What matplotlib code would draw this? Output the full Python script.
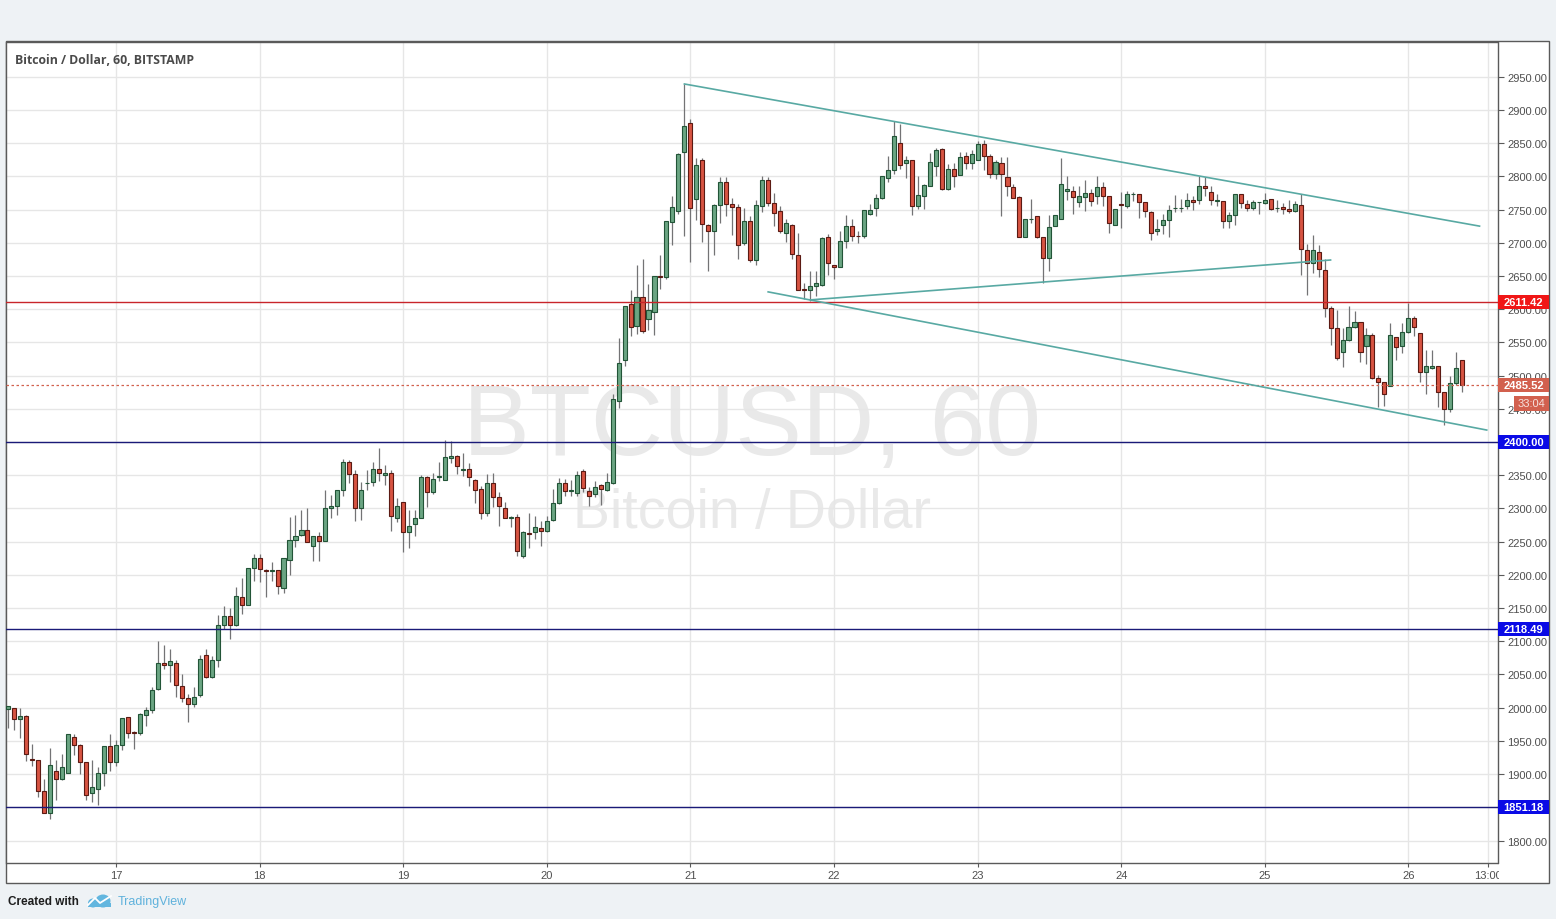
import matplotlib
matplotlib.use('Agg')
import matplotlib.pyplot as plt
from matplotlib.patches import Rectangle, Ellipse
from matplotlib.lines import Line2D

plt.rcParams['font.family'] = ['Liberation Sans', 'DejaVu Sans']

W, H = 1556, 920

# hourly BTCUSD candles, first one = 16th 06:00
opens = [1998, 2000, 1983, 1988, 1923, 1922, 1875, 1842, 1904, 1893, 1902, 1956, 1944, 1919, 1872, 1877, 1901, 1943, 1919, 1944,
         1986, 1963, 1962, 1989, 1997, 2028, 2067, 2064, 2067, 2033, 2014, 2006, 2019, 2079, 2046, 2072, 2124, 2138, 2124, 2166,
         2155, 2210, 2226, 2207, 2206, 2207, 2180, 2223, 2253, 2260, 2267, 2243, 2258, 2251, 2300, 2304, 2327, 2370, 2352, 2301,
         2338, 2340, 2360, 2351, 2354, 2286, 2309, 2264, 2277, 2286, 2348, 2324, 2348, 2343, 2376, 2379, 2358, 2359, 2343, 2329,
         2293, 2339, 2317, 2300, 2286, 2287, 2228, 2263, 2264, 2270, 2266, 2282, 2308, 2338, 2326, 2323, 2356, 2326, 2321, 2336,
         2327, 2338, 2462, 2523, 2608, 2574, 2618, 2585, 2595, 2650, 2649, 2731, 2748, 2836, 2881, 2766, 2824, 2727, 2718, 2757,
         2792, 2759, 2754, 2700, 2732, 2674, 2756, 2795, 2760, 2748, 2715, 2726, 2681, 2630, 2629, 2635, 2636, 2708, 2667, 2663,
         2702, 2725, 2710, 2710, 2743, 2753, 2767, 2798, 2809, 2850, 2820, 2824, 2755, 2770, 2786, 2815, 2841, 2781, 2811, 2802,
         2831, 2820, 2825, 2849, 2830, 2803, 2820, 2799, 2784, 2769, 2709, 2735.5, 2740, 2708, 2677, 2725, 2736, 2778, 2778, 2761,
         2769, 2775, 2770, 2784, 2770, 2727, 2758, 2756, 2773, 2773, 2761, 2747, 2717, 2727, 2734, 2752, 2752, 2756, 2764, 2765,
         2785, 2776, 2763, 2763, 2733, 2742, 2774, 2758, 2752, 2761, 2760, 2766, 2752, 2754, 2751, 2748, 2757, 2689, 2669, 2686,
         2659, 2601, 2571, 2535, 2553, 2573, 2580, 2545, 2561, 2496, 2490, 2484, 2558, 2545, 2565, 2586, 2564, 2505, 2512, 2515,
         2476, 2449, 2489, 2523]
highs = [2002, 2000, 2000, 1989, 1946, 1922, 1892, 1940, 1922, 1931, 1961, 1961, 1945, 1919, 1921, 1911, 1943, 1961, 1952, 1985,
         1986, 1965, 1992, 2001, 2031, 2101, 2095, 2089, 2072, 2051, 2021, 2031, 2079, 2089, 2078, 2140, 2153, 2150, 2182, 2195,
         2210, 2231, 2231, 2209, 2219, 2207, 2225, 2287, 2290, 2297, 2300, 2258, 2265, 2327, 2320, 2327, 2375, 2373, 2358, 2340,
         2358, 2370, 2391, 2366, 2358, 2316, 2309, 2297, 2297, 2351, 2349, 2354, 2370, 2403, 2402, 2380, 2384, 2369, 2344, 2334,
         2352, 2353, 2324, 2310, 2289, 2292, 2266, 2293, 2288, 2281, 2288, 2330, 2346, 2345, 2343, 2356, 2360, 2333, 2342, 2337,
         2353, 2472, 2556, 2605, 2629, 2666, 2675, 2638, 2650, 2681, 2732, 2770, 2835, 2939, 2887, 2827, 2827, 2728, 2758, 2799,
         2799, 2768, 2758, 2753, 2740, 2764, 2800, 2799, 2775, 2755, 2735, 2728, 2715, 2640, 2657, 2657, 2708, 2713, 2667, 2718,
         2742, 2736, 2717, 2750, 2758, 2774, 2800, 2830, 2883, 2878, 2830, 2824, 2800, 2788, 2835, 2843, 2842, 2819, 2820, 2836,
         2836, 2840, 2853, 2855, 2833, 2825, 2829, 2829, 2788, 2770, 2736, 2766, 2740, 2709, 2741, 2741, 2828, 2801, 2786, 2786,
         2795, 2781, 2801, 2791, 2770, 2751, 2776, 2778, 2777, 2774, 2761, 2748, 2736, 2743, 2757, 2772, 2766, 2775, 2771, 2800,
         2799, 2786, 2774, 2763, 2746, 2774, 2774, 2764, 2764, 2762, 2775, 2766, 2765, 2760, 2764, 2763, 2773, 2698, 2711, 2696,
         2675, 2605, 2599, 2571, 2605, 2597, 2580, 2571, 2564, 2501, 2491, 2579, 2558, 2579, 2609, 2590, 2564, 2539, 2538, 2515,
         2476, 2500, 2535, 2523]
lows = [1970, 1967, 1954, 1920, 1912, 1866, 1841, 1832, 1861, 1891, 1901, 1929, 1900, 1861, 1858, 1854, 1882, 1904, 1912, 1937,
        1954, 1938, 1959, 1973, 1992, 2027, 2059, 2039, 2016, 2009, 1979, 2001, 2016, 2045, 2045, 2061, 2118, 2104, 2123, 2141,
        2154, 2190, 2189, 2166, 2190, 2171, 2173, 2200, 2242, 2259, 2250, 2221, 2221, 2251, 2285, 2290, 2318, 2339, 2281, 2283,
        2327, 2334, 2341, 2335, 2266, 2279, 2234, 2241, 2259, 2286, 2302, 2321, 2342, 2343, 2368, 2352, 2349, 2334, 2308, 2284,
        2289, 2302, 2274, 2285, 2272, 2229, 2225, 2240, 2254, 2244, 2265, 2281, 2307, 2318, 2318, 2319, 2324, 2304, 2317, 2305,
        2326, 2337, 2451, 2515, 2559, 2562, 2564, 2569, 2561, 2631, 2646, 2696, 2743, 2710, 2671, 2734, 2701, 2657, 2682, 2730,
        2740, 2712, 2676, 2696, 2671, 2667, 2746, 2755, 2725, 2715, 2701, 2675, 2629, 2615, 2612, 2620, 2635, 2652, 2645, 2663,
        2692, 2702, 2700, 2707, 2742, 2740, 2766, 2791, 2803, 2811, 2797, 2742, 2751, 2751, 2786, 2800, 2780, 2779, 2784, 2802,
        2811, 2811, 2824, 2810, 2797, 2796, 2740, 2770, 2768, 2708, 2708, 2730, 2707, 2640, 2658, 2725, 2736, 2765, 2743, 2754,
        2748, 2756, 2758, 2756, 2715, 2726, 2722, 2752, 2763, 2737, 2738, 2704, 2711, 2713, 2708, 2746, 2747, 2751, 2750, 2758,
        2770, 2757, 2756, 2722, 2722, 2727, 2752, 2748, 2750, 2744, 2758, 2750, 2746, 2743, 2745, 2746, 2651, 2622, 2654, 2649,
        2588, 2546, 2524, 2513, 2552, 2571, 2521, 2517, 2495, 2452, 2454, 2484, 2524, 2534, 2564, 2559, 2491, 2473, 2510, 2453,
        2425, 2445, 2486, 2475]
closes = [2002, 1983, 1988, 1931, 1922, 1875, 1842, 1914, 1893, 1910, 1961, 1944, 1919, 1868, 1880, 1901, 1943, 1919, 1944, 1985,
          1962, 1962, 1990, 1997, 2027, 2067, 2064, 2070, 2034, 2014, 2006, 2016, 2073, 2046, 2072, 2124, 2138, 2124, 2168, 2155,
          2210, 2226, 2209, 2206, 2207, 2183, 2225, 2252, 2259, 2267, 2250, 2258, 2251, 2300, 2304, 2327, 2370, 2352, 2301, 2327,
          2339, 2360, 2354, 2354, 2288, 2304, 2264, 2274, 2286, 2348, 2324, 2344, 2349, 2377, 2379, 2364, 2359, 2348, 2328, 2293,
          2339, 2317, 2303, 2285, 2287, 2236, 2264, 2262, 2272, 2266, 2281, 2308, 2338, 2326, 2327, 2351, 2331, 2318, 2332, 2329,
          2340, 2464, 2519, 2605, 2573, 2618, 2567, 2598, 2650, 2649, 2732, 2754, 2834, 2875, 2753, 2817, 2728, 2718, 2757, 2792,
          2759, 2754, 2696, 2732, 2674, 2757, 2795, 2760, 2745, 2718, 2729, 2683, 2629, 2629, 2635, 2640, 2707, 2670, 2663, 2703,
          2725, 2710, 2709.5, 2750, 2750, 2767, 2800, 2810, 2861, 2817, 2824, 2755, 2772, 2787, 2821, 2840, 2781, 2811, 2801, 2829,
          2820, 2833, 2849, 2831, 2803, 2822, 2803, 2785, 2768, 2709, 2736, 2736, 2709, 2677, 2724, 2741, 2788, 2781, 2769, 2770,
          2775, 2763, 2784, 2770, 2730, 2751, 2757, 2773, 2774, 2761, 2748, 2715, 2720, 2734, 2750, 2752.5, 2753, 2764, 2761, 2785,
          2783, 2764, 2764, 2733, 2742, 2774, 2760, 2753, 2761, 2762, 2764, 2751, 2752, 2751, 2748, 2759, 2691, 2669, 2689, 2660,
          2601, 2571, 2526, 2553, 2573, 2580, 2535, 2561, 2496, 2490, 2472, 2561, 2543, 2565, 2586, 2573, 2505, 2514, 2514, 2475,
          2449, 2489, 2511, 2485.52]

day_pos = [18, 42, 66, 90, 114, 138, 162, 186, 210, 234, 247.3]
day_labels = ['17', '18', '19', '20', '21', '22', '23', '24', '25', '26', '13:00']

price_ticks = list(range(1800, 3000, 50))
hidden_ticks = [2400, 1850]  # sit under the level boxes

level_prices = [2611.42, 2400.00, 2118.49, 1851.18]
level_colors = ['#c8242a', '#1a1a78', '#1a1a78', '#1a1a78']
level_label_bg = ['#f01616', '#0a0ae6', '#0a0ae6', '#0a0ae6']

# trend lines: (x0, p0, x1, p1) in candle index / price
trend_lines = [(113.0, 2939, 245.9, 2725),
               (127.0, 2626, 247.1, 2418),
               (134.1, 2614, 221.0, 2674)]

last_price = 2485.52
countdown = '33:04'

UP, DOWN = '#6ba583', '#d75442'
UP_EDGE, DOWN_EDGE = '#225437', '#5b1a13'
WICK = '#737375'
TEAL = '#58a9a3'
LAST_COL = '#d2604e'


def fx(x):
    return x / W


def fy(y):
    return 1 - y / H


fig = plt.figure(figsize=(W / 100, H / 100), dpi=100, facecolor='#eef2f5')

# white chart panel
fig.add_artist(Rectangle((fx(6), fy(884)), (1549 - 6) / W, (884 - 42) / H,
                         transform=fig.transFigure, facecolor='white',
                         edgecolor='#5a5a5a', linewidth=1, zorder=-1))

ax = fig.add_axes([fx(6.5), fy(864), (1497.5 - 6.5) / W, (864 - 43) / H])
ax.set_xlim(-0.3, 248.9)
ax.set_ylim(1766.2, 3002.2)

for s in ax.spines.values():
    s.set_color('#5a5a5a')
    s.set_linewidth(1)

ax.set_axisbelow(True)
ax.grid(True, color='#e6e6e6', linewidth=1)
ax.yaxis.tick_right()
ax.set_yticks(price_ticks)
ax.set_yticklabels(['' if v in hidden_ticks else f'{v:.2f}' for v in price_ticks])
ax.set_xticks(day_pos)
ax.set_xticklabels(day_labels)
ax.tick_params(axis='y', direction='out', length=4, color='#5a5a5a',
               labelsize=8, labelcolor='#4f4f4f', pad=3)
ax.tick_params(axis='x', direction='out', length=3, color='#5a5a5a',
               labelsize=8, labelcolor='#4f4f4f', pad=2)

# watermark
ax.text(fx(752), fy(455), 'BTCUSD, 60', transform=fig.transFigure,
        fontsize=72, color='#e9e9e9', ha='center', va='baseline', zorder=0.1)
ax.text(fx(752), fy(528), 'Bitcoin / Dollar', transform=fig.transFigure,
        fontsize=40, color='#e9e9e9', ha='center', va='baseline', zorder=0.1)

# candles
xs = list(range(len(opens)))
ax.vlines(xs, lows, highs, color=WICK, linewidth=0.9, zorder=2)
bottoms = [min(o, c) for o, c in zip(opens, closes)]
heights = [max(abs(c - o), 0.8) for o, c in zip(opens, closes)]
fills = [UP if c >= o else DOWN for o, c in zip(opens, closes)]
edges = [UP_EDGE if c >= o else DOWN_EDGE for o, c in zip(opens, closes)]
ax.bar(xs, heights, bottom=bottoms, width=0.68, color=fills,
       edgecolor=edges, linewidth=0.8, zorder=3)

# horizontal levels
for p, c in zip(level_prices, level_colors):
    ax.axhline(p, color=c, linewidth=1, zorder=4)
ax.axhline(last_price, color=LAST_COL, linewidth=0.9, linestyle=(0, (2, 2)), zorder=4)

# trend lines
for x0, p0, x1, p1 in trend_lines:
    ax.add_line(Line2D([x0, x1], [p0, p1], color=TEAL, linewidth=1.2, zorder=5))

# price labels on the right axis
ytr = ax.get_yaxis_transform()
box_w = (1549 - 1498) / (1497.5 - 6.5)
lab_x = 1 + (1523.5 - 1497.5) / (1497.5 - 6.5)
for p, bg in zip(level_prices + [last_price], level_label_bg + [LAST_COL]):
    ax.add_patch(Rectangle((1.0003, p - 10.5), box_w, 21, transform=ytr,
                           facecolor=bg, edgecolor='none', clip_on=False, zorder=6))
    ax.text(lab_x, p, f'{p:.2f}', transform=ytr, ha='center', va='center',
            fontsize=8, color='white', fontweight='bold', clip_on=False, zorder=7)
cd_x0 = 1 + (1514 - 1497.5) / (1497.5 - 6.5)
ax.add_patch(Rectangle((cd_x0, 2447), (1549 - 1514) / (1497.5 - 6.5), 22, transform=ytr,
                       facecolor=LAST_COL, edgecolor='none', clip_on=False, zorder=6))
ax.text(1 + (1531 - 1497.5) / (1497.5 - 6.5), 2458, countdown, transform=ytr,
        ha='center', va='center', fontsize=8, color='#f6e2de', clip_on=False, zorder=7)

# clip the time labels at the price axis
fig.add_artist(Rectangle((fx(1498.5), fy(883)), (1548 - 1498.5) / W, (883 - 865) / H,
                         transform=fig.transFigure, facecolor='white',
                         edgecolor='none', zorder=5))

# title
fig.text(fx(15), fy(60), 'Bitcoin / Dollar, 60, BITSTAMP', fontsize=8.8,
         fontweight='bold', color='#4a4a4a', va='center', family=['Open Sans', 'DejaVu Sans'])

# footer
fig.text(fx(8), fy(902), 'Created with', fontsize=8.5, fontweight='bold',
         color='#1e1e1e', va='center')
logo = '#62b6df'
fig.add_artist(Ellipse((fx(93), fy(904)), 10 / W, 9 / H, transform=fig.transFigure,
                       facecolor=logo, edgecolor='none', zorder=3))
fig.add_artist(Ellipse((fx(103), fy(902)), 15 / W, 13 / H, transform=fig.transFigure,
                       facecolor=logo, edgecolor='none', zorder=3))
fig.add_artist(Rectangle((fx(88), fy(908)), 23 / W, 4 / H, transform=fig.transFigure,
                         facecolor=logo, edgecolor='none', zorder=3))
fig.add_artist(Line2D([fx(88), fx(95), fx(100), fx(111)], [fy(906), fy(899), fy(904), fy(897)],
                      transform=fig.transFigure, color='white', linewidth=1.3, zorder=4))
fig.text(fx(118), fy(902), 'TradingView', fontsize=9, color='#5fb2dc', va='center')

fig.savefig('out.png', dpi=100, facecolor=fig.get_facecolor())
